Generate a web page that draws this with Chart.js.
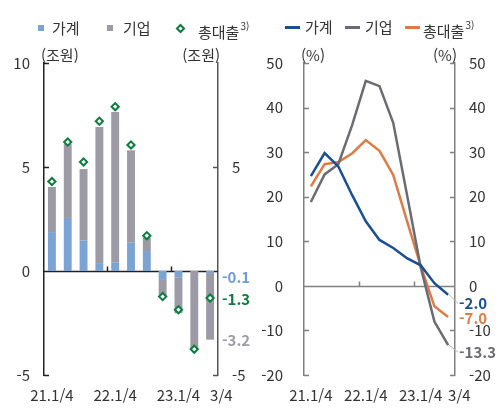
<!DOCTYPE html>
<html lang="ko">
<head>
<meta charset="utf-8">
<title>대출 증감 및 증가율</title>
<script src="https://cdn.jsdelivr.net/npm/chart.js@4.4.1/dist/chart.umd.min.js"></script>
<style>
    body { margin: 0; background: #fff; font-family: "Noto Sans CJK KR", sans-serif; color: #333; }
    .wrap { position: relative; width: 499px; height: 410px; overflow: hidden; }
    .wrap canvas { position: absolute; top: 0; }
    #flowChart { left: 0; }
    #growthChart { left: 250px; }
    .lg { position: absolute; font-size: 15px; line-height: 18px; white-space: nowrap; }
    .lg sup { font-size: 10px; position: relative; top: -2px; margin-left: 1px; }
    .mk { position: absolute; display: block; }
    .sq { width: 6px; height: 6px; top: 25px; }
    .dia { width: 3px; height: 3px; top: 24.5px; border: 2px solid #0a7d3c; background: #fff; transform: rotate(45deg); }
    .ln { width: 15px; height: 2.5px; top: 26px; }
</style>
</head>
<body>
<div class="wrap">
    <canvas id="flowChart" width="256" height="410"></canvas>
    <canvas id="growthChart" width="249" height="410"></canvas>

    <!-- legend: left -->
    <i class="mk sq" style="left:38px;background:#7ba3d4"></i>
    <span class="lg" style="left:52px;top:19px">가계</span>
    <i class="mk sq" style="left:107px;background:#9c9aa5"></i>
    <span class="lg" style="left:123px;top:19px">기업</span>
    <i class="mk dia" style="left:177px"></i>
    <span class="lg" style="left:198px;top:19px">총대출<sup>3)</sup></span>

    <!-- legend: right -->
    <i class="mk ln" style="left:285px;background:#1b4f93"></i>
    <span class="lg" style="left:305px;top:18px">가계</span>
    <i class="mk ln" style="left:345px;background:#6b6b76"></i>
    <span class="lg" style="left:365px;top:18px">기업</span>
    <i class="mk ln" style="left:405px;background:#e07a45"></i>
    <span class="lg" style="left:423px;top:18px">총대출<sup>3)</sup></span>
</div>

<script>
    "use strict";

    // Data
    var quarters = ['21.1/4', '21.2/4', '21.3/4', '21.4/4', '22.1/4', '22.2/4', '22.3/4', '22.4/4', '23.1/4', '23.2/4', '23.3/4'];
    var tickLabels = ['21.1/4', '', '', '', '22.1/4', '', '', '', '23.1/4', '', '3/4'];

    // 대출 증감 (조원)
    var hhFlow = [1.87, 2.55, 1.46, 0.38, 0.42, 1.36, 0.96, -0.43, -0.3, 0, -0.1];
    var corpFlow = [2.17, 3.55, 3.44, 6.54, 7.23, 4.44, 0.64, -0.8, -1.73, -3.75, -3.2];
    var totalFlow = [4.3, 6.2, 5.24, 7.2, 7.9, 6.06, 1.7, -1.23, -1.86, -3.76, -1.3];

    // 증가율 (%)
    var hhGrowth = [24.6, 29.8, 26.8, 20.4, 14.5, 10.3, 8.5, 6.2, 4.6, 0.6, -2.0];
    var corpGrowth = [18.8, 25.0, 27.3, 36.0, 46.0, 44.8, 36.6, 20.5, 4.2, -8.0, -13.3];
    var totalGrowth = [22.3, 27.3, 27.8, 29.7, 32.7, 30.3, 24.9, 14.6, 4.5, -4.6, -7.0];

    var FONT = '"Noto Sans CJK KR", "Noto Sans", sans-serif';
    Chart.defaults.font.family = FONT;
    Chart.defaults.font.size = 15;
    Chart.defaults.color = '#333';

    var yearStarts = [];
    quarters.forEach(function (q, i) {
        if (i > 0 && q.indexOf('.1/4') > 0) yearStarts.push(i);
    });

    function xTick(v, i) {
        // last label nudged right so it does not touch 23.1/4
        return i === quarters.length - 1 ? '\u2003\u2002' + tickLabels[i] : tickLabels[i];
    }

    // axis ticks, zero line, units and end labels
    var deco = {
        id: 'deco',
        beforeDatasetsDraw: function (chart, args, o) {
            var ctx = chart.ctx, a = chart.chartArea, x = chart.scales.x;
            ctx.save();
            ctx.lineWidth = 1.5;

            ['y', 'y2'].forEach(function (id) {
                var s = chart.scales[id];
                var bx = s.position === 'left' ? a.left : a.right;
                var dir = s.position === 'left' ? 1 : -1;
                ctx.strokeStyle = s.options.border.color;
                ctx.beginPath();
                s.ticks.forEach(function (t) {
                    if (t.value === 0 || t.label === '') return;
                    var py = Math.round(s.getPixelForValue(t.value)) + 0.5;
                    ctx.moveTo(bx, py);
                    ctx.lineTo(bx + dir * 5, py);
                });
                ctx.stroke();
            });

            var y0 = Math.round(chart.scales.y.getPixelForValue(0)) + 0.5;
            ctx.strokeStyle = o.zeroColor;
            ctx.beginPath();
            ctx.moveTo(a.left, y0);
            ctx.lineTo(a.right, y0);
            yearStarts.forEach(function (i) {
                var px = Math.round((x.getPixelForValue(i - 1) + x.getPixelForValue(i)) / 2) + 0.5;
                ctx.moveTo(px, y0);
                ctx.lineTo(px, y0 - 5);
            });
            ctx.stroke();

            ctx.fillStyle = '#333';
            ctx.font = '15px ' + FONT;
            ctx.textBaseline = 'middle';
            ctx.textAlign = 'left';
            ctx.fillText(o.unit, a.left - 3, a.top - 8);
            ctx.textAlign = 'right';
            ctx.fillText(o.unit, a.right + 2, a.top - 8);
            ctx.restore();
        },
        afterDatasetsDraw: function (chart, args, o) {
            var ctx = chart.ctx, a = chart.chartArea, x = chart.scales.x, y = chart.scales.y;
            ctx.save();
            ctx.font = 'bold 15px ' + FONT;
            ctx.textAlign = 'left';
            ctx.textBaseline = 'middle';
            o.ends.forEach(function (e) {
                var n = e.data.length - 1;
                var v = e.data[n];
                var ly = y.getPixelForValue(v) + e.dy;
                var lx = a.right + 3;
                if (e.lead) {
                    ctx.strokeStyle = '#b5b5b5';
                    ctx.lineWidth = 1;
                    ctx.beginPath();
                    ctx.moveTo(x.getPixelForValue(n) + 1, y.getPixelForValue(v));
                    ctx.lineTo(lx, ly);
                    ctx.stroke();
                }
                ctx.fillStyle = e.color;
                ctx.fillText(v.toFixed(1), lx + 1, ly);
            });
            ctx.restore();
        }
    };

    function xAxis(stacked) {
        return {
            stacked: stacked,
            offset: true,
            grid: { display: false, drawTicks: false },
            border: { display: false },
            ticks: { autoSkip: false, maxRotation: 0, padding: 11, callback: xTick },
            afterFit: function (s) { s.height = 35; }
        };
    }

    function yAxis(pos, stacked, min, max, step, color, pad, width, show) {
        return {
            position: pos,
            stacked: stacked,
            min: min,
            max: max,
            grid: { display: false, drawTicks: false },
            border: { color: color, width: 1.5 },
            ticks: {
                stepSize: step,
                padding: pad,
                callback: function (v) { return show(v) ? v : ''; }
            },
            afterFit: function (s) { s.width = width; }
        };
    }


    // 대출 증감 bar chart
    var ctx1 = document.getElementById('flowChart').getContext('2d');
    var myChart1 = new Chart(ctx1, {
        type: 'bar',
        data: {
            labels: quarters,
            datasets: [{
                    label: '가계',
                    data: hhFlow,
                    backgroundColor: '#7ba3d4',
                    stack: 'loan',
                    barPercentage: 0.5,
                    categoryPercentage: 1
                },
                {
                    label: '기업',
                    data: corpFlow,
                    backgroundColor: '#9c9aa5',
                    stack: 'loan',
                    barPercentage: 0.5,
                    categoryPercentage: 1
                },
                {
                    type: 'line',
                    label: '총대출',
                    data: totalFlow,
                    stack: 'total',
                    showLine: false,
                    order: -1,
                    pointStyle: 'rectRot',
                    pointRadius: 3.6,
                    pointBorderWidth: 2,
                    pointBorderColor: '#0a7d3c',
                    pointBackgroundColor: '#fff'
                }
            ]
        },
        options: {
            responsive: false,
            animation: false,
            layout: { padding: { top: 63 } },
            plugins: {
                legend: { display: false },
                tooltip: { enabled: false },
                deco: {
                    unit: '(조원)',
                    zeroColor: '#222',
                    ends: [
                        { data: hhFlow, color: '#6f9bd2', dy: 4 },
                        { data: totalFlow, color: '#0a7d3c', dy: 1.5 },
                        { data: corpFlow, color: '#9d9ba6', dy: 3 }
                    ]
                }
            },
            scales: {
                x: xAxis(true),
                y: yAxis('left', true, -5, 10, 5, '#222', 14, 44, function () { return true; }),
                y2: yAxis('right', false, -5, 10, 5, '#555', 14, 38, function (v) { return v === 5 || v === -5; })
            }
        },
        plugins: [deco]
    });


    // 증가율 line chart
    var ctx2 = document.getElementById('growthChart').getContext('2d');
    var myChart2 = new Chart(ctx2, {
        type: 'line',
        data: {
            labels: quarters,
            datasets: [{
                    label: '가계',
                    data: hhGrowth,
                    borderColor: '#1b4f93'
                },
                {
                    label: '기업',
                    data: corpGrowth,
                    borderColor: '#6b6b76'
                },
                {
                    label: '총대출',
                    data: totalGrowth,
                    borderColor: '#e07a45'
                }
            ]
        },
        options: {
            responsive: false,
            animation: false,
            layout: { padding: { top: 63 } },
            elements: {
                line: { borderWidth: 2.5, tension: 0, fill: false },
                point: { radius: 0 }
            },
            plugins: {
                legend: { display: false },
                tooltip: { enabled: false },
                deco: {
                    unit: '(%)',
                    zeroColor: '#808080',
                    ends: [
                        { data: hhGrowth, color: '#1b4f93', dy: 8.5, lead: true },
                        { data: totalGrowth, color: '#e07a45', dy: 1 },
                        { data: corpGrowth, color: '#6b6b76', dy: 7, lead: true }
                    ]
                }
            },
            scales: {
                x: xAxis(false),
                y: yAxis('left', false, -20, 50, 10, '#808080', 21, 54, function () { return true; }),
                y2: yAxis('right', false, -20, 50, 10, '#808080', 14, 44, function () { return true; })
            }
        },
        plugins: [deco]
    });
</script>
</body>
</html>
